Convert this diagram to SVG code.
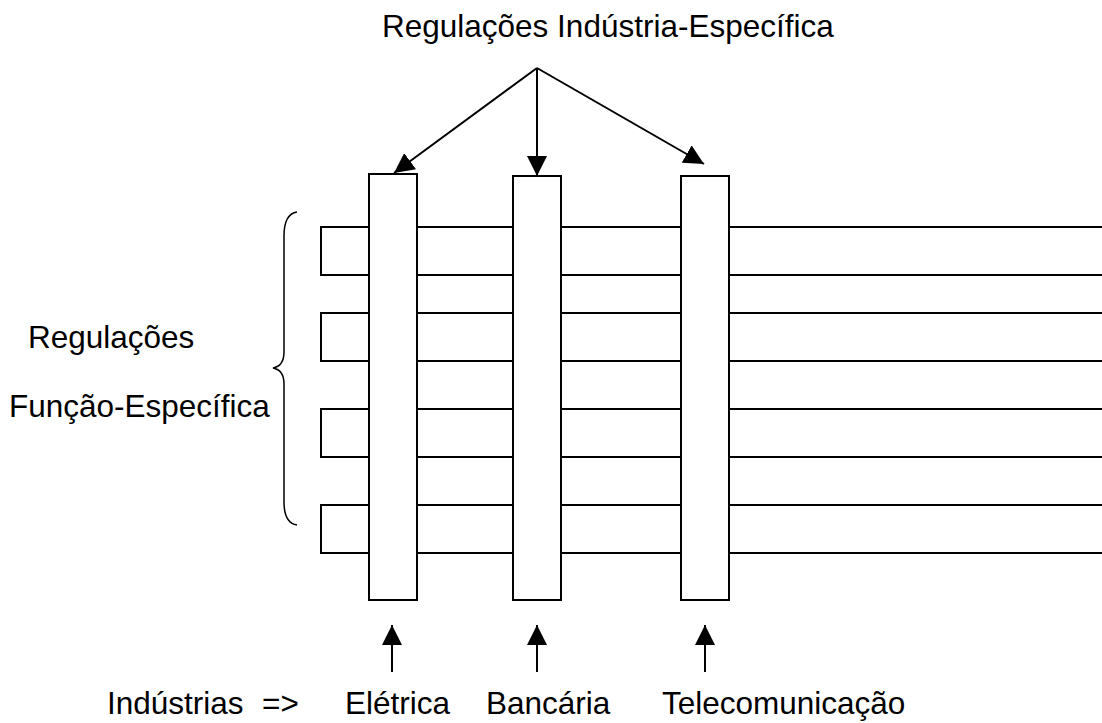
<svg xmlns="http://www.w3.org/2000/svg" width="1102" height="723" viewBox="0 0 1102 723">
<defs>
<style>
.t{font-family:"Liberation Sans",Arial,sans-serif;font-size:31.5px;fill:#000}
.ln{stroke:#000;stroke-width:2;fill:none}
.box{stroke:#000;stroke-width:2;fill:#fff}
</style>
<marker id="ah" markerUnits="userSpaceOnUse" markerWidth="22" markerHeight="20" refX="20" refY="10" orient="auto">
<path d="M0,0 L20,10 L0,20 Z" fill="#000"/>
</marker>
</defs>
<rect width="1102" height="723" fill="#fff"/>
<g id="function-strips">
<rect class="box" x="321" y="227" width="800" height="48"/>
<rect class="box" x="321" y="313" width="800" height="48"/>
<rect class="box" x="321" y="409" width="800" height="48"/>
<rect class="box" x="321" y="505" width="800" height="48"/>
</g>
<g id="bar-eletrica"><rect class="box" x="369" y="174" width="48" height="426"/></g>
<g id="bar-bancaria"><rect class="box" x="513" y="176" width="48" height="424"/></g>
<g id="bar-telecom"><rect class="box" x="681" y="176" width="48" height="424"/></g>
<g id="brace"><path d="M297,212 Q284,214 284,236 L284,352 Q284,366 273,368 Q284,370 284,384 L284,502 Q284,523 297,525" stroke="#000" stroke-width="1.5" fill="none"/></g>
<g id="connectors">
<line class="ln" x1="537" y1="68" x2="394" y2="173" marker-end="url(#ah)"/>
<line class="ln" x1="537" y1="68" x2="537" y2="176" marker-end="url(#ah)"/>
<line class="ln" x1="537" y1="68" x2="704" y2="164" marker-end="url(#ah)"/>
<line class="ln" x1="392" y1="672" x2="392" y2="625" marker-end="url(#ah)"/>
<line class="ln" x1="537" y1="672" x2="537" y2="625" marker-end="url(#ah)"/>
<line class="ln" x1="705" y1="672" x2="705" y2="625" marker-end="url(#ah)"/>
</g>
<g id="labels">
<text class="t" x="382" y="37">Regulações Indústria-Específica</text>
<text class="t" x="28" y="348">Regulações</text>
<text class="t" x="9" y="417">Função-Específica</text>
<text class="t" y="714"><tspan x="107">Indústrias</tspan><tspan x="262">=&gt;</tspan></text>
<text class="t" x="345" y="714">Elétrica</text>
<text class="t" x="486" y="714">Bancária</text>
<text class="t" x="662" y="714">Telecomunicação</text>
</g>
</svg>
